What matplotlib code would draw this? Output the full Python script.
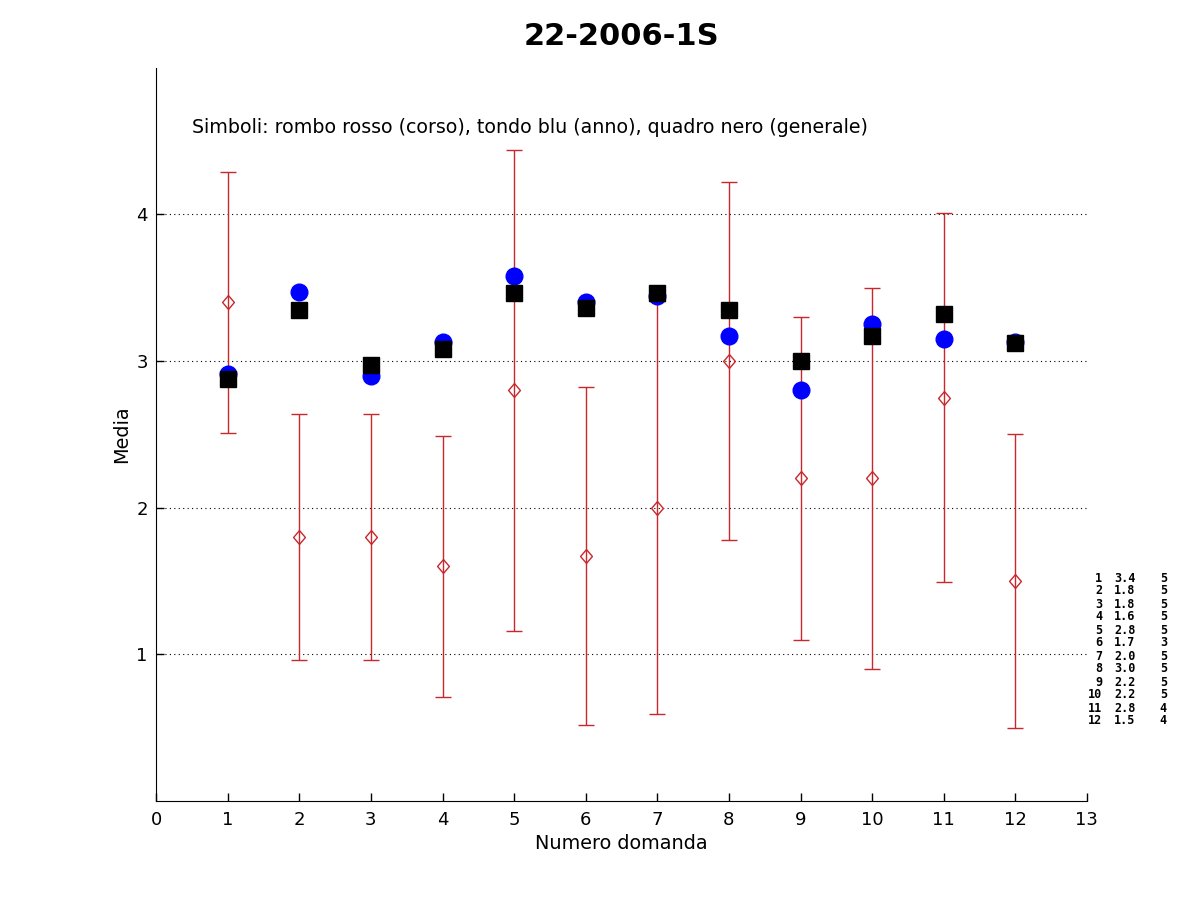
import matplotlib
matplotlib.use("Agg")
import matplotlib.pyplot as plt
from matplotlib.path import Path
import numpy as np

plt.rcParams['font.family'] = ['DejaVu Sans']

domande = [1, 2, 3, 4, 5, 6, 7, 8, 9, 10, 11, 12]
corso = [3.4, 1.8, 1.8, 1.6, 2.8, 1.67, 2.0, 3.0, 2.2, 2.2, 2.75, 1.5]
corso_err = [0.89, 0.84, 0.84, 0.89, 1.64, 1.15, 1.41, 1.22, 1.10, 1.30, 1.26, 1.00]
anno = [2.91, 3.47, 2.90, 3.13, 3.58, 3.40, 3.44, 3.17, 2.80, 3.25, 3.15, 3.13]
generale = [2.88, 3.35, 2.97, 3.08, 3.46, 3.36, 3.46, 3.35, 3.00, 3.17, 3.32, 3.12]
tab_media = [3.4, 1.8, 1.8, 1.6, 2.8, 1.7, 2.0, 3.0, 2.2, 2.2, 2.8, 1.5]
tab_n = [5, 5, 5, 5, 5, 3, 5, 5, 5, 5, 4, 4]

diamond = Path([(0, 1), (0.85, 0), (0, -1), (-0.85, 0), (0, 1)],
               [Path.MOVETO, Path.LINETO, Path.LINETO, Path.LINETO, Path.CLOSEPOLY])

W, H = 1201, 900
fig = plt.figure(figsize=(W / 100, H / 100), dpi=100)
ax = fig.add_axes([0.13, 0.11, 0.775, 0.815])

ax.errorbar(domande, corso, yerr=corso_err, fmt='none', ecolor='#c8282c',
            elinewidth=1.0, capsize=6, capthick=1.0, zorder=2)
ax.plot(domande, corso, linestyle='none', marker=diamond, markersize=10,
        markerfacecolor='none', markeredgecolor='#c8282c', markeredgewidth=1.0, zorder=3)
ax.plot(domande, anno, linestyle='none', marker='o', markersize=12,
        color='#0000ff', zorder=4)
ax.plot(domande, generale, linestyle='none', marker='s', markersize=11.5,
        color='black', zorder=5)

ax.set_xlim(0, 13)
ax.set_ylim(0, 5)
ax.set_xticks(range(0, 14))
ax.set_yticks([1, 2, 3, 4])
ax.tick_params(direction='in', length=6, labelsize=13, width=1)
ax.tick_params(axis='x', pad=7.5)
ax.tick_params(axis='y', pad=6)
ax.yaxis.grid(True, linestyle=(0, (1, 3)), color='black', linewidth=0.8)
ax.set_axisbelow(True)
for s in ['top', 'right']:
    ax.spines[s].set_visible(False)

ax.set_xlabel('Numero domanda', fontsize=13.9, labelpad=3)
ax.set_ylabel('Media', fontsize=13.9, labelpad=4)
ax.set_title('22-2006-1S', fontsize=22, fontweight='bold', pad=16)

ax.text(0.5, 4.59, 'Simboli: rombo rosso (corso), tondo blu (anno), quadro nero (generale)',
        fontsize=13.7, va='center', ha='left')

# side table, one row per question
tab_kw = dict(family='DejaVu Sans Mono', fontweight='bold', fontsize=8.5, va='center')
for i, (d, m, n) in enumerate(zip(domande, tab_media, tab_n)):
    yc = 1 - (578 + 13.0 * i) / H
    fig.text(1102 / W, yc, "%d" % d, ha='right', **tab_kw)
    fig.text(1114 / W, yc, "%.1f" % m, ha='left', **tab_kw)
    fig.text(1167 / W, yc, "%d" % n, ha='right', **tab_kw)

fig.savefig('out.png', dpi=100, facecolor='white')
